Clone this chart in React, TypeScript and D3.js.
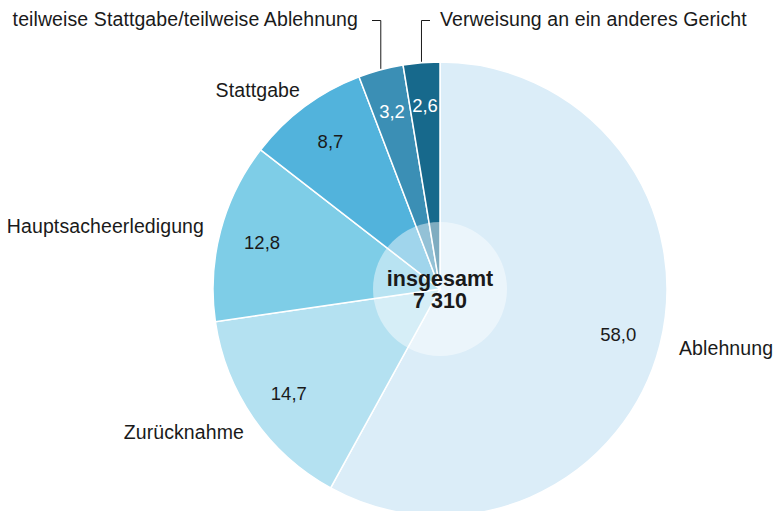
import React, { useRef, useEffect } from 'react';
import * as d3 from 'd3';

const categories = [
  'Ablehnung',
  'Zurücknahme',
  'Hauptsacheerledigung',
  'Stattgabe',
  'teilweise Stattgabe/teilweise Ablehnung',
  'Verweisung an ein anderes Gericht',
];
const shares = [58.0, 14.7, 12.8, 8.7, 3.2, 2.6];
const colors = ['#dbedf8', '#b4e1f1', '#7ecde7', '#52b3dc', '#3b8fb5', '#17698c'];
const valueColors = ['#1a1a1a', '#1a1a1a', '#1a1a1a', '#1a1a1a', '#ffffff', '#ffffff'];
const totalLabel = ['insgesamt', '7 310'];

// outer label placement (layout only)
const labelPos: [number, number, string][] = [
  [679, 355, 'start'],
  [244, 439, 'end'],
  [204, 233, 'end'],
  [300, 97, 'end'],
  [358, 26, 'end'],
  [440, 26, 'start'],
];

const fmt = (v: number) => v.toFixed(1).replace('.', ',');

const App = () => {
  const ref = useRef<SVGSVGElement>(null);

  useEffect(() => {
    const svg = d3.select(ref.current);
    svg.selectAll('*').remove();

    const cx = 440, cy = 289, R = 227, rIn = 67, rLab = 184;
    const g = svg.append('g').attr('transform', `translate(${cx},${cy})`);

    const data = shares.map((v, i) => ({ v, i }));
    const pie = d3.pie<{ v: number; i: number }>().value(d => d.v).sort(null);
    const arcs = pie(data);
    const arc = d3.arc<d3.PieArcDatum<{ v: number; i: number }>>().innerRadius(0).outerRadius(R);
    const labArc = d3.arc<d3.PieArcDatum<{ v: number; i: number }>>().innerRadius(rLab).outerRadius(rLab);

    g.selectAll('path.slice')
      .data(arcs)
      .join('path')
      .attr('class', 'slice')
      .attr('d', arc)
      .attr('fill', d => colors[d.data.i])
      .attr('stroke', '#fff')
      .attr('stroke-width', 1.5);

    g.append('circle').attr('r', rIn).attr('fill', '#fff').attr('fill-opacity', 0.45);

    g.selectAll('text.val')
      .data(arcs)
      .join('text')
      .attr('class', 'val')
      .attr('transform', d => `translate(${labArc.centroid(d)})`)
      .attr('text-anchor', 'middle')
      .attr('dy', '0.35em')
      .attr('fill', d => valueColors[d.data.i])
      .attr('font-size', 18.5)
      .text(d => fmt(d.data.v));

    g.selectAll('text.tot')
      .data(totalLabel)
      .join('text')
      .attr('class', 'tot')
      .attr('text-anchor', 'middle')
      .attr('y', (_, i) => (i === 0 ? -3 : 19))
      .attr('font-size', 21.5)
      .attr('font-weight', 'bold')
      .attr('fill', '#1a1a1a')
      .text(d => d);

    svg.selectAll('text.cat')
      .data(categories)
      .join('text')
      .attr('class', 'cat')
      .attr('x', (_, i) => labelPos[i][0])
      .attr('y', (_, i) => labelPos[i][1])
      .attr('text-anchor', (_, i) => labelPos[i][2])
      .attr('font-size', 19.5)
      .attr('letter-spacing', 0.1)
      .attr('fill', '#1a1a1a')
      .text(d => d);

    // leader lines for the two thin slices
    const top = (i: number) => {
      const a = arcs[i];
      const m = (a.startAngle + a.endAngle) / 2;
      return [Math.sin(m) * R + cx, -Math.cos(m) * R + cy];
    };
    const [x4, y4] = top(4);
    const [x5, y5] = top(5);
    svg.append('path')
      .attr('d', `M372,20.5 H${x4} V${y4 - 1}`)
      .attr('fill', 'none').attr('stroke', '#1a1a1a').attr('stroke-width', 1);
    svg.append('path')
      .attr('d', `M430,20.5 H${x5} V${y5 - 1}`)
      .attr('fill', 'none').attr('stroke', '#1a1a1a').attr('stroke-width', 1);
  }, []);

  return (
    <svg
      ref={ref}
      width={778}
      height={511}
      style={{ position: 'absolute', left: 0, top: 0, fontFamily: '"Liberation Sans", Arial, sans-serif' }}
    />
  );
};

export default App;
